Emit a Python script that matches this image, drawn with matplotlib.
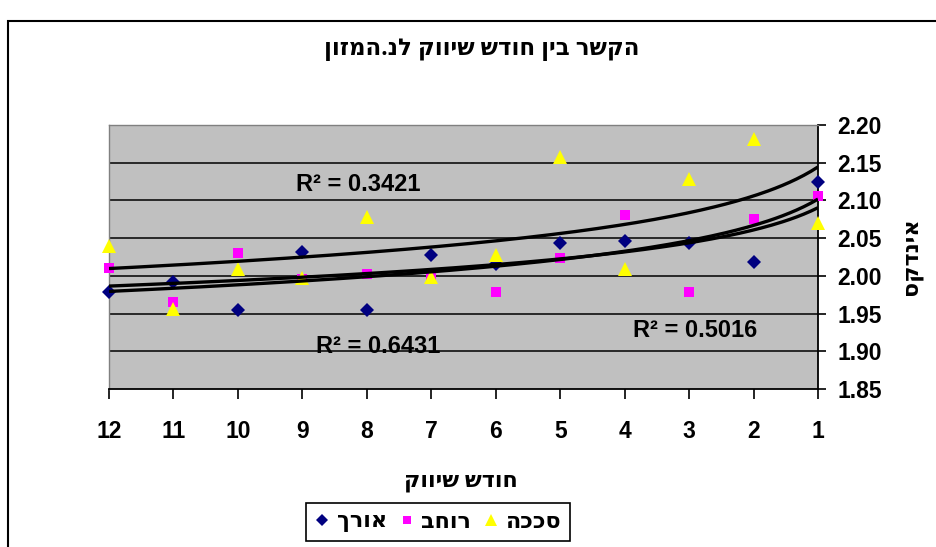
import numpy as np
import matplotlib
matplotlib.use("Agg")
import matplotlib.pyplot as plt
from matplotlib.lines import Line2D
from matplotlib.patches import Rectangle

# Marketing month (1..12) and index values per product series
months = [1, 2, 3, 4, 5, 6, 7, 8, 9, 10, 11, 12]
length_vals = [2.124, 2.019, 2.044, 2.046, 2.044, 2.016, 2.028, 1.955, 2.031, 1.955, 1.992, 1.979]
width_vals = [2.106, 2.076, 1.978, 2.081, 2.024, 1.978, 2.000, 2.003, 1.996, 2.030, 1.965, 2.010]
shed_vals = [2.070, 2.182, 2.129, 2.009, 2.157, 2.027, 1.998, 2.078, 1.997, 2.009, 1.956, 2.039]

series_names = ["אורך", "רוחב", "סככה"]
r2_labels = ["0.6431", "0.5016", "0.3421"]
y_ticks = [1.85, 1.90, 1.95, 2.00, 2.05, 2.10, 2.15, 2.20]

title_text = "הקשר בין חודש שיווק לנ.המזון"
xlabel_text = "חודש שיווק"
ylabel_text = "אינדקס"


def vis(s):
    # matplotlib lays glyphs left to right; Hebrew reads right to left
    return s[::-1]


FONT = ["Liberation Sans", "DejaVu Sans"]
HEB = ["Open Sans", "DejaVu Sans"]
plt.rcParams["font.family"] = FONT
plt.rcParams["font.weight"] = "bold"

W, H = 937, 547
fig = plt.figure(figsize=(W / 100, H / 100), dpi=100)
fig.patch.set_facecolor("white")

# chart-area border (runs off the right and bottom edges)
fig.patches.append(Rectangle((8 / W, -0.05), 1.2, 1 - 21 / H + 0.05,
                             transform=fig.transFigure, fill=False,
                             edgecolor="black", linewidth=1.5))

L, R, T, B = 109, 818, 125, 389
ax = fig.add_axes([L / W, 1 - B / H, (R - L) / W, (B - T) / H])
ax.set_facecolor("#C0C0C0")

ax.set_xlim(12, 1)
ax.set_ylim(1.85, 2.20)

styles = [
    dict(marker="D", color="#000080", ms=7.5),
    dict(marker="s", color="#FF00FF", ms=7.5),
    dict(marker="^", color="#FFFF00", ms=10.5),
]
data = [length_vals, width_vals, shed_vals]

for vals, st in zip(data, styles):
    ax.plot(months, vals, linestyle="none", marker=st["marker"],
            color=st["color"], markersize=st["ms"], markeredgewidth=0,
            clip_on=False, zorder=3)

# power-law trendlines y = a * x^b, fitted in log-log space
xs = np.linspace(1, 12, 200)
for vals in data:
    b, loga = np.polyfit(np.log(months), np.log(vals), 1)
    ax.plot(xs, np.exp(loga) * xs ** b, color="black", lw=2.4, zorder=4,
            solid_capstyle="butt")

# gridlines
for y in y_ticks[1:-1]:
    ax.axhline(y, color="black", lw=1.1, zorder=1)

ax.set_yticks(y_ticks)
ax.set_yticklabels([f"{v:.2f}" for v in y_ticks])
ax.yaxis.tick_right()
ax.set_xticks(months)
ax.set_xticklabels([str(m) for m in months])
ax.tick_params(axis="y", direction="out", length=6, width=1.2, pad=8,
               labelsize=16.5, colors="black")
ax.tick_params(axis="x", direction="out", length=7, width=1.2, pad=15,
               labelsize=16.5)
for lab in ax.get_xticklabels() + ax.get_yticklabels():
    lab.set_fontweight("bold")

for side in ["top", "left"]:
    ax.spines[side].set_color("#808080")
    ax.spines[side].set_linewidth(1)
for side in ["bottom", "right"]:
    ax.spines[side].set_color("black")
    ax.spines[side].set_linewidth(1.3)

# R² annotations
r2_pos = [(7.83, 1.9057), (2.91, 1.928), (8.14, 2.1205)]
for (xp, yp), r2 in zip(r2_pos, r2_labels):
    ax.text(xp, yp, f"R² = {r2}", fontsize=17, fontweight="bold",
            ha="center", va="center", zorder=5)

fig.text(482 / W, 1 - 49 / H, vis(title_text), ha="center", va="center",
         fontsize=16.5, fontweight="bold", family=HEB)
fig.text(461 / W, 1 - 481 / H, vis(xlabel_text), ha="center", va="center",
         fontsize=16, fontweight="bold", family=HEB)
fig.text(912 / W, 1 - 256 / H, vis(ylabel_text), ha="center", va="center",
         fontsize=16, fontweight="bold", rotation=90, family=HEB)

handles = [Line2D([], [], linestyle="none", marker=st["marker"],
                  color=st["color"], markersize=st["ms"] * 0.85,
                  markeredgewidth=0)
           for st in styles]
leg = fig.legend(handles, [vis(n) for n in series_names], ncol=3,
                 loc="center", bbox_to_anchor=(438 / W, 1 - 522 / H),
                 frameon=True, fancybox=False, edgecolor="black",
                 framealpha=1, handlelength=0.7, handletextpad=0.3,
                 columnspacing=0.55, borderpad=0.4, borderaxespad=0,
                 prop={"family": HEB, "weight": "bold", "size": 16})
leg.get_frame().set_linewidth(1.2)

fig.savefig("out.png", dpi=100)
